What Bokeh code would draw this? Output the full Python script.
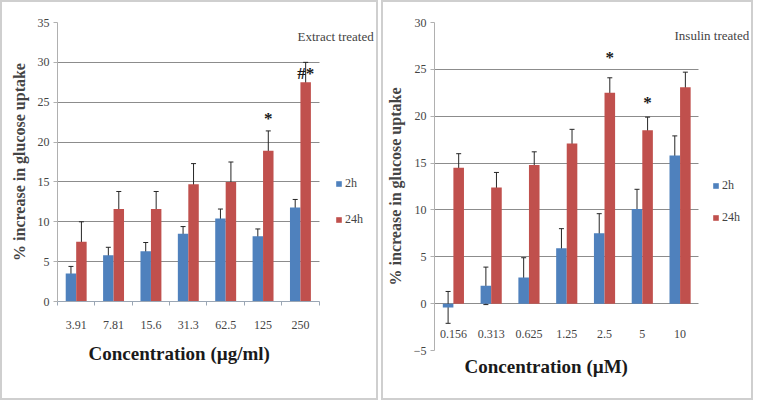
from bokeh.plotting import figure
from bokeh.models import (ColumnDataSource, Whisker, Legend, LegendItem, Label, Title,
                          Range1d, FixedTicker, TeeHead)
from bokeh.transform import dodge
from bokeh.layouts import row
from bokeh.embed import file_html
from bokeh.resources import INLINE
from bokeh.core.properties import value

# ---------------- data ----------------
ext_conc = ["3.91", "7.81", "15.6", "31.3", "62.5", "125", "250"]
ext_2h = [3.5, 5.8, 6.3, 8.5, 10.4, 8.2, 11.8]
ext_2h_err = [0.9, 1.0, 1.1, 0.9, 1.2, 0.9, 1.0]
ext_24h = [7.5, 11.6, 11.6, 14.7, 15.0, 18.9, 27.5]
ext_24h_err = [2.5, 2.2, 2.2, 2.6, 2.5, 2.5, 2.5]
ext_sig = ["", "", "", "", "", "*", "#*"]
ext_sig_y = [0, 0, 0, 0, 0, 22.9, 28.6]
ext_ticks = [0, 5, 10, 15, 20, 25, 30, 35]

ins_conc = ["0.156", "0.313", "0.625", "1.25", "2.5", "5", "10"]
ins_2h = [-0.4, 1.9, 2.8, 5.9, 7.5, 10.1, 15.8]
ins_2h_err = [1.7, 2.0, 2.1, 2.1, 2.1, 2.1, 2.1]
ins_24h = [14.5, 12.4, 14.8, 17.1, 22.5, 18.5, 23.1]
ins_24h_err = [1.5, 1.6, 1.4, 1.5, 1.6, 1.4, 1.6]
ins_sig = ["", "", "", "", "*", "*", ""]
ins_sig_y = [0, 0, 0, 0, 26.3, 21.5, 0]
ins_ticks = [-5, 0, 5, 10, 15, 20, 25, 30]

series_labels = ["2h", "24h"]

BLUE = "#4f81bd"
RED = "#c0504d"
ERR = "#262626"
GRID = "#8c8c8c"
AXIS = "#9aa6b4"
SERIF = "Liberation Serif"


def panel(conc, v2, e2, v24, e24, sig, sig_y, ticks, xlabel, note,
          width, height, mb, data_w, frame_w, leg_loc, leg_spacing, note_loc,
          label_standoff, title_standoff, title_offset, minor_ticks):
    n = len(conc)
    centers = [i + 0.5 for i in range(n)]
    src = ColumnDataSource(dict(
        x=centers, v2=v2, v24=v24,
        up2=[a + b for a, b in zip(v2, e2)], lo2=[a - b for a, b in zip(v2, e2)],
        up24=[a + b for a, b in zip(v24, e24)], lo24=[a - b for a, b in zip(v24, e24)],
        sig=sig, sig_y=sig_y,
    ))
    p = figure(width=width, height=height,
               x_range=Range1d(0, n * frame_w / data_w),
               y_range=Range1d(ticks[0], ticks[-1]),
               output_backend="svg", toolbar_location=None,
               min_border_left=mb[0], min_border_right=mb[1],
               min_border_top=mb[2], min_border_bottom=mb[3],
               background_fill_color="white", border_fill_color="white",
               styles={"border": "2px solid #cfcfcf", "box-sizing": "border-box"})
    p.outline_line_color = None
    try:
        p.frame_align = False
    except AttributeError:
        pass

    r2 = p.vbar(x=dodge("x", -0.14), top="v2", bottom=0, width=0.28,
                source=src, fill_color=BLUE, line_color=None)
    r24 = p.vbar(x=dodge("x", 0.14), top="v24", bottom=0, width=0.28,
                 source=src, fill_color=RED, line_color=None)

    for off, up, lo in ((-0.14, "up2", "lo2"), (0.14, "up24", "lo24")):
        w = Whisker(source=src, base=dodge("x", off), upper=up, lower=lo,
                    line_color=ERR, line_width=1,
                    upper_head=TeeHead(size=5, line_color=ERR, line_width=1),
                    lower_head=TeeHead(size=5, line_color=ERR, line_width=1))
        p.add_layout(w)

    p.text(x=dodge("x", 0.14), y="sig_y", text="sig", source=src,
           text_align="center", text_baseline="middle", text_font=value(SERIF),
           text_font_size="17px", text_font_style="bold", text_color="#1a1a1a")

    # y axis
    p.yaxis.ticker = FixedTicker(ticks=ticks)
    p.yaxis.axis_label = "% increase in glucose uptake"
    p.yaxis.axis_label_text_font = SERIF
    p.yaxis.axis_label_text_font_style = "bold"
    p.yaxis.axis_label_text_font_size = "16px"
    p.yaxis.axis_label_standoff = 7
    p.yaxis.major_label_text_font = SERIF
    p.yaxis.major_label_text_font_size = "12px"
    p.yaxis.major_label_standoff = 4
    p.yaxis.axis_line_color = "#b0b0b0"
    p.yaxis.major_tick_line_color = "#b0b0b0"
    p.yaxis.major_tick_out = 4
    p.yaxis.major_tick_in = 0
    p.yaxis.minor_tick_line_color = None

    # x axis (category names at the bar-group centres)
    xa = p.xaxis[0]
    xa.ticker = FixedTicker(ticks=centers,
                            minor_ticks=[float(i) for i in range(n + 1)] if minor_ticks else [])
    xa.major_label_overrides = {c: name for c, name in zip(centers, conc)}
    xa.bounds = (0, n)
    xa.major_label_text_font = SERIF
    xa.major_label_text_font_size = "12px"
    xa.major_tick_line_color = None
    xa.major_tick_out = 0
    xa.major_tick_in = 0
    xa.minor_tick_line_color = AXIS if minor_ticks else None
    xa.minor_tick_out = 4
    xa.minor_tick_in = 0
    xa.axis_line_color = AXIS if minor_ticks else None
    xa.major_label_standoff = label_standoff

    p.add_layout(Title(text=xlabel, align="left", offset=title_offset,
                       standoff=title_standoff, text_font=SERIF,
                       text_font_style="bold", text_font_size="19px",
                       text_color="#1a1a1a"), "below")

    p.xgrid.visible = False
    g = p.ygrid[0]
    g.grid_line_color = GRID
    g.grid_line_width = 1
    try:
        g.cross_bounds = (0, n)
    except AttributeError:
        pass

    leg = Legend(items=[LegendItem(label=series_labels[0], renderers=[r2]),
                        LegendItem(label=series_labels[1], renderers=[r24])],
                 location=leg_loc, orientation="vertical",
                 glyph_width=7, glyph_height=7, label_height=14, label_standoff=3,
                 spacing=leg_spacing, padding=0, margin=0,
                 label_text_font=SERIF, label_text_font_size="12px",
                 background_fill_alpha=0, border_line_color=None)
    p.add_layout(leg)

    p.add_layout(Label(x=note_loc[0], y=note_loc[1], x_units="screen", y_units="screen",
                       text=note, text_font=SERIF, text_font_size="13px",
                       text_baseline="middle"))
    return p


p1 = panel(ext_conc, ext_2h, ext_2h_err, ext_24h, ext_24h_err, ext_sig, ext_sig_y,
           ext_ticks, "Concentration (µg/ml)", "Extract treated",
           width=378, height=400, mb=(55, 0, 20, 101), data_w=260, frame_w=321,
           leg_loc=(278, 74), leg_spacing=21, note_loc=(240, 265),
           label_standoff=15, title_standoff=18, title_offset=31, minor_ticks=True)
p2 = panel(ins_conc, ins_2h, ins_2h_err, ins_24h, ins_24h_err, ins_sig, ins_sig_y,
           ins_ticks, "Concentration (µM)", "Insulin treated",
           width=372, height=400, mb=(50, 0, 20, 52), data_w=262, frame_w=318,
           leg_loc=(278, 125), leg_spacing=17, note_loc=(240, 315),
           label_standoff=-21, title_standoff=7, title_offset=30, minor_ticks=False)

layout = row(p1, p2, spacing=3)
open("out.html", "w").write(file_html(layout, INLINE))
